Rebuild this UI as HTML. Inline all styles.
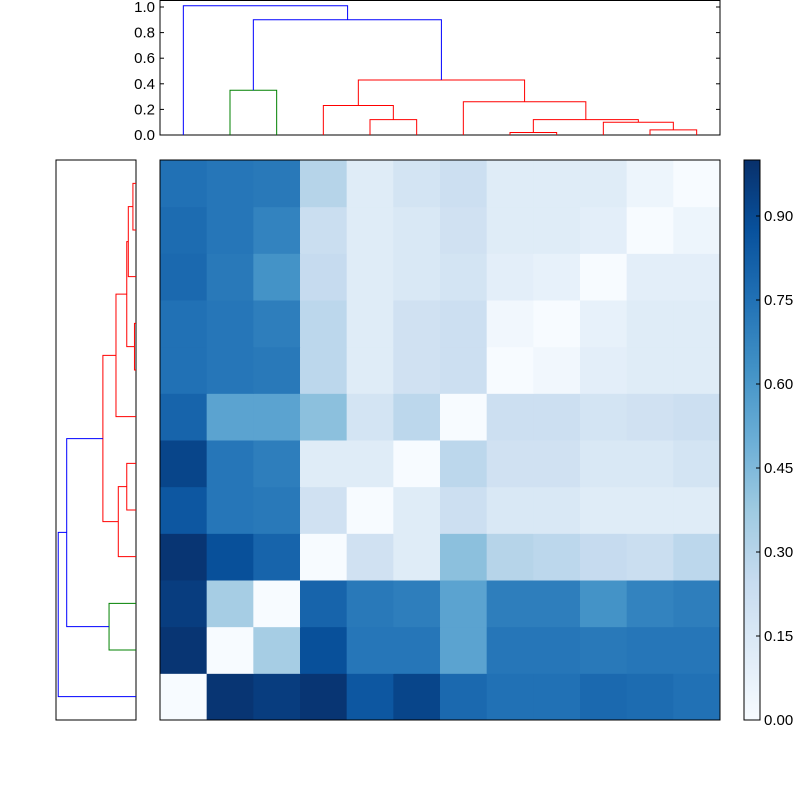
<!DOCTYPE html>
<html><head><meta charset="utf-8"><style>
body{margin:0;background:#fff;}
svg{display:block;font-family:"Liberation Sans",sans-serif;}
</style></head><body>
<svg id="c" width="800" height="800"></svg>
<script>
const heatRows=[ // leaf order i=0..11 (i=0 drawn at bottom)
[0,.98,.95,.98,.85,.92,.78,.75,.75,.78,.77,.75],
[.98,0,.35,.88,.73,.73,.55,.73,.73,.72,.73,.73],
[.95,.35,0,.8,.72,.7,.55,.7,.7,.62,.68,.7],
[.98,.88,.8,0,.2,.12,.42,.3,.28,.25,.23,.28],
[.85,.73,.72,.2,0,.12,.22,.15,.15,.12,.12,.12],
[.92,.73,.7,.12,.12,0,.28,.2,.2,.15,.15,.18],
[.8,.55,.55,.42,.18,.28,0,.22,.22,.18,.2,.22],
[.75,.73,.72,.28,.12,.2,.22,0,.03,.1,.12,.12],
[.75,.73,.7,.28,.12,.2,.22,.03,0,.08,.12,.12],
[.78,.72,.62,.25,.12,.15,.18,.1,.08,0,.1,.1],
[.77,.73,.68,.23,.12,.15,.2,.12,.12,.1,0,.05],
[.75,.73,.72,.3,.12,.18,.22,.12,.12,.12,.05,0]];
// links in leaf units
const linkLeft=[7,10,9,7.5,1,4,3,6,3.75,1.5,0];
const linkRight=[8,11,10.5,9.75,2,5,4.5,8.625,7.3125,5.53,3.52];
const linkLH=[0,0,0,0.02,0,0,0,0,0.23,0.35,0];
const linkRH=[0,0,0.04,0.10,0,0,0.12,0.12,0.26,0.43,0.9];
const linkH=[0.02,0.04,0.10,0.12,0.35,0.12,0.23,0.26,0.43,0.9,1.01];
const linkColor=["red","red","red","red","green","red","red","red","red","blue","blue"];
const dendroTicks=[0,0.2,0.4,0.6,0.8,1.0];
const cbarTicks=[0,0.15,0.30,0.45,0.60,0.75,0.90];
const N=12, X0=160,Y0=160,S=560,cs=S/N;
const svg=document.getElementById('c');const NS="http://www.w3.org/2000/svg";
function el(t,a,p){const e=document.createElementNS(NS,t);for(const k in a)e.setAttribute(k,a[k]);(p||svg).appendChild(e);return e;}
const stops=["#f7fbff","#deebf7","#c6dbef","#9ecae1","#6baed6","#4292c6","#2171b5","#08519c","#08306b"];
function hx(h){return [1,3,5].map(i=>parseInt(h.substr(i,2),16));}
function cmap(v){v=Math.max(0,Math.min(1,v));const p=v*8,i=Math.min(7,Math.floor(p)),f=p-i;const a=hx(stops[i]),b=hx(stops[i+1]);return "rgb("+a.map((x,k)=>Math.round(x+(b[k]-x)*f)).join(",")+")";}
const colX=i=>X0+(i+0.5)*cs, rowY=i=>Y0+(N-1-i+0.5)*cs;
const g=el('g',{});
heatRows.forEach((row,i)=>row.forEach((v,j)=>{const r=el('rect',{x:X0+j*cs,y:Y0+(N-1-i)*cs,width:cs+0.5,height:cs+0.5,fill:cmap(v)},g);
}));
const hb=el('rect',{x:X0,y:Y0,width:S,height:S,fill:'none',stroke:'#000'});
const TY0=135,TS=128;const ty=h=>TY0-h*TS;
const tf=el('rect',{x:160,y:0.5,width:560,height:134.5,fill:'none',stroke:'#000'});
linkH.forEach((h,k)=>{const x1=colX(linkLeft[k]),x2=colX(linkRight[k]);
const p=el('polyline',{points:`${x1},${ty(linkLH[k])} ${x1},${ty(h)} ${x2},${ty(h)} ${x2},${ty(linkRH[k])}`,fill:'none',stroke:linkColor[k]});
});
dendroTicks.forEach(t=>{const y=ty(t);el('line',{x1:160,x2:164,y1:y,y2:y,stroke:'#000'});el('line',{x1:716,x2:720,y1:y,y2:y,stroke:'#000'});
const tx=el('text',{x:155,y:y+5,'text-anchor':'end','font-size':15});tx.textContent=t.toFixed(1);});
const LX0=136,LS=77;const lx=h=>LX0-h*LS;
const lf=el('rect',{x:56,y:160,width:80,height:560,fill:'none',stroke:'#000'});
linkH.forEach((h,k)=>{const y1=rowY(linkLeft[k]),y2=rowY(linkRight[k]);
const p=el('polyline',{points:`${lx(linkLH[k])},${y1} ${lx(h)},${y1} ${lx(h)},${y2} ${lx(linkRH[k])},${y2}`,fill:'none',stroke:linkColor[k]});
});
const defs=el('defs',{});const lg=el('linearGradient',{id:'cb',x1:0,y1:1,x2:0,y2:0},defs);
stops.forEach((s,i)=>el('stop',{offset:i/8,'stop-color':s},lg));
const cb=el('rect',{x:744,y:160,width:16,height:560,fill:'url(#cb)',stroke:'#000'});
cbarTicks.forEach(t=>{const y=720-t*560;el('line',{x1:756,x2:760,y1:y,y2:y,stroke:'#000'});
const tx=el('text',{x:764,y:y+5,'font-size':15});tx.textContent=t.toFixed(2);});
</script>
</body></html>
